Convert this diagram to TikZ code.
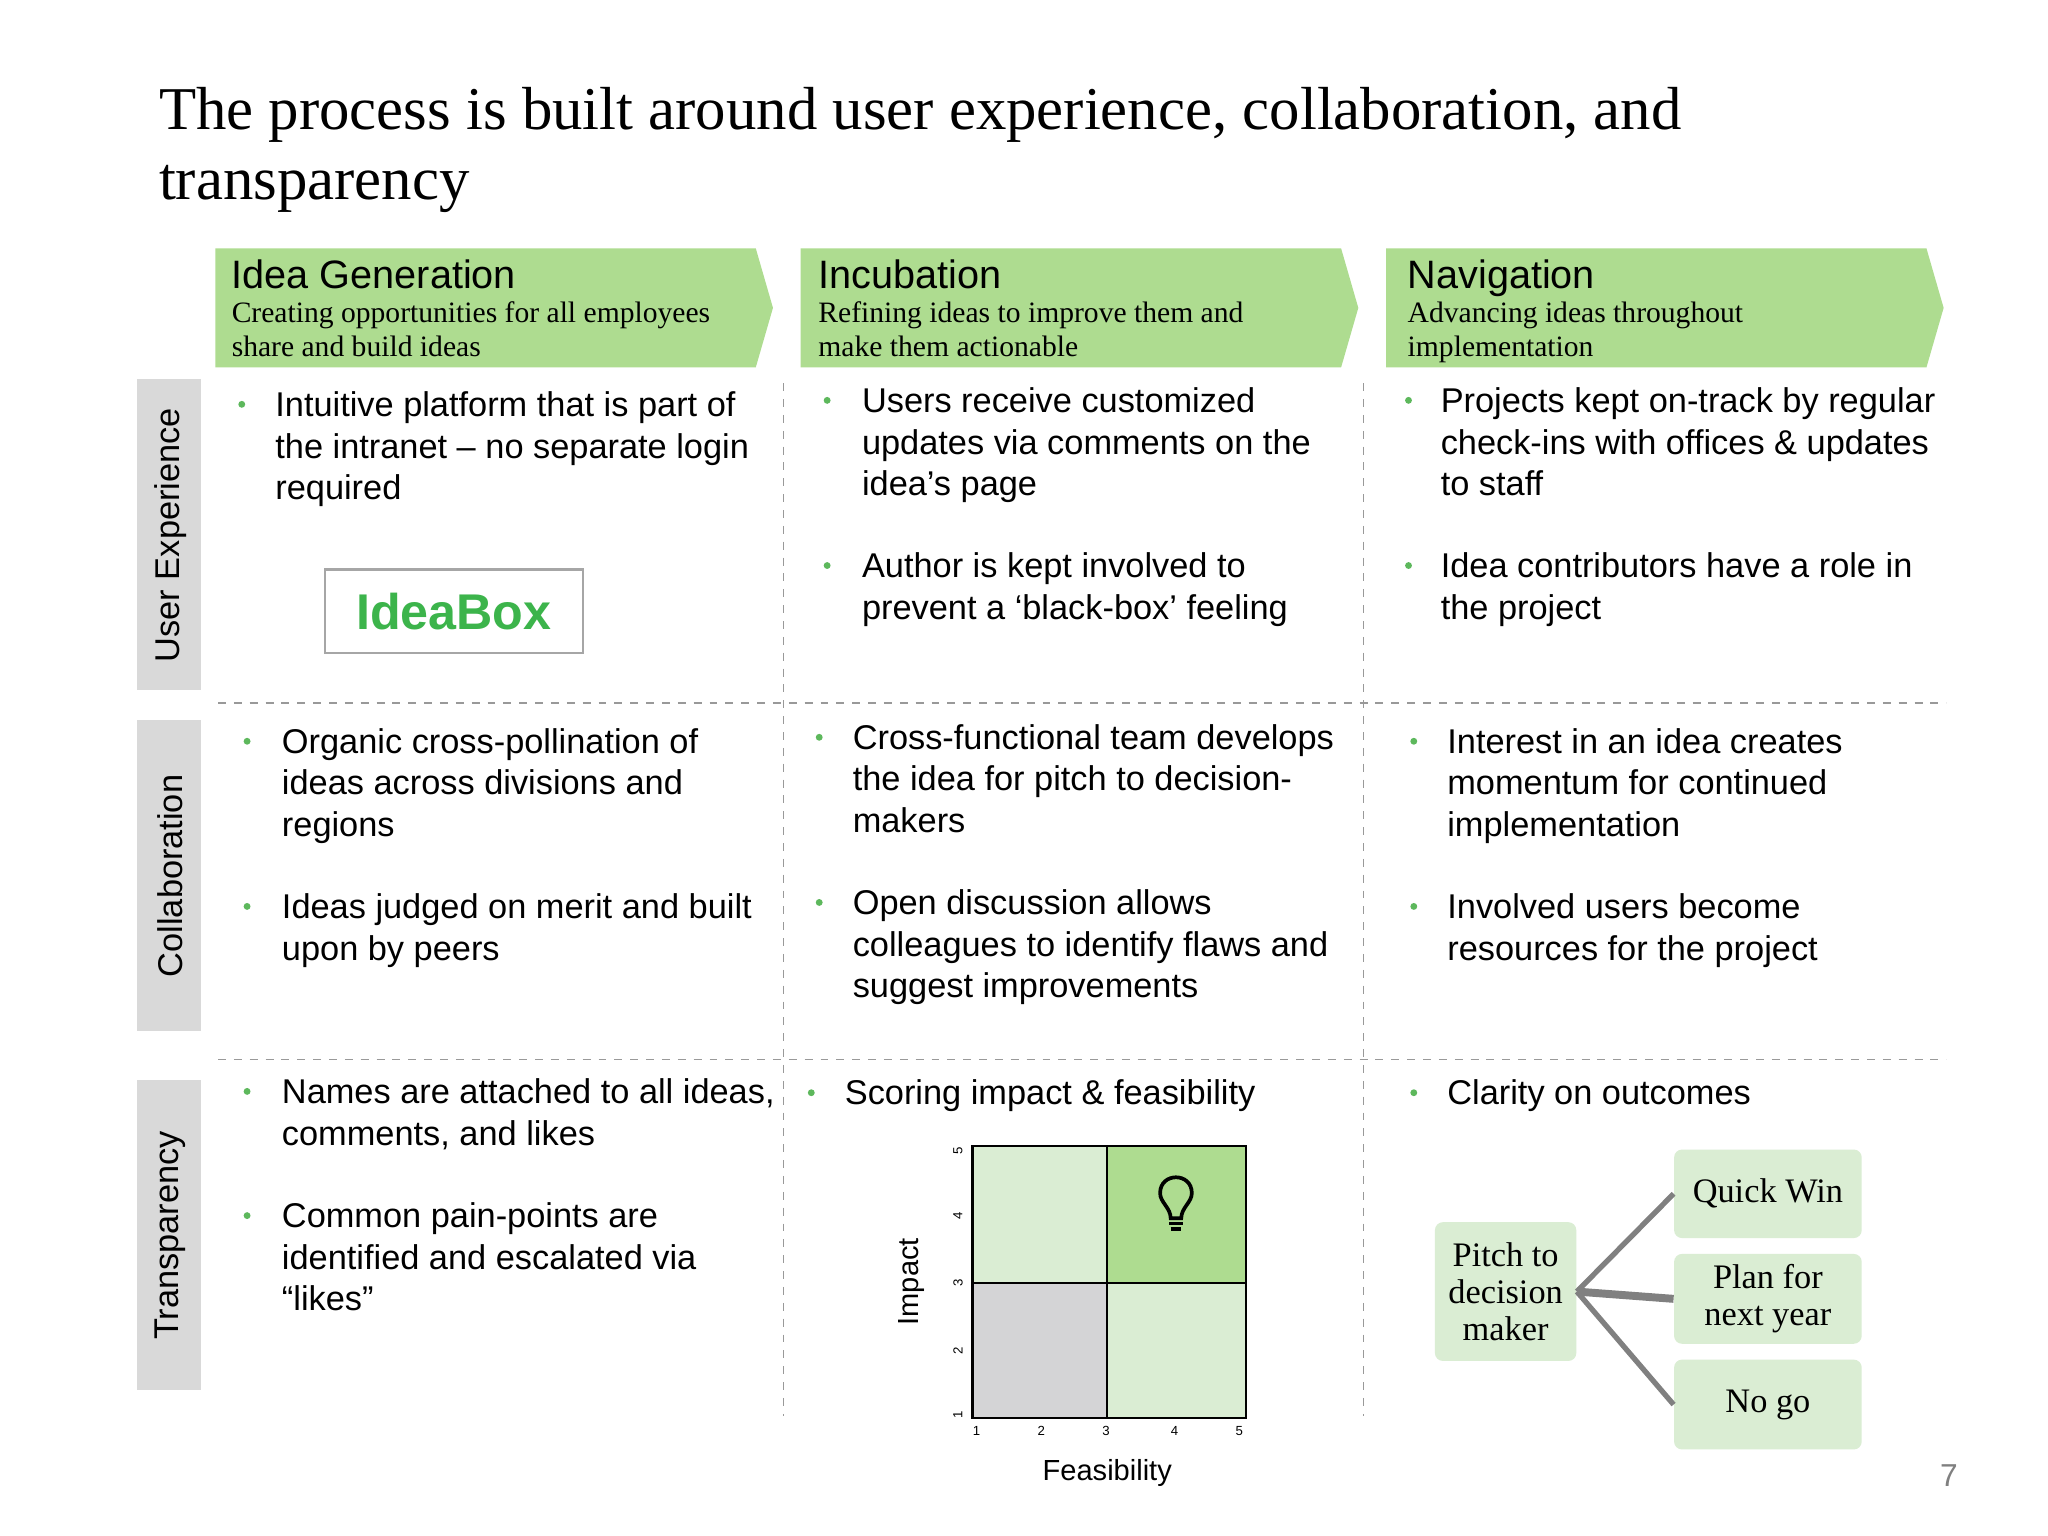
\documentclass[tikz,border=0pt]{standalone}
\usepackage{fontspec}
\setmainfont{Liberation Serif}
\setsansfont{Liberation Sans}
\usetikzlibrary{shapes.geometric}
\definecolor{hdr}{RGB}{174,220,144}
\definecolor{lgr}{RGB}{218,237,211}
\definecolor{gry}{RGB}{217,217,217}
\definecolor{bgr}{RGB}{212,212,214}
\definecolor{bul}{RGB}{93,184,92}
\definecolor{ibx}{RGB}{60,180,75}
\tikzset{
 bodytxt/.style={font=\sffamily\fontsize{13}{15.7}\selectfont,align=left,anchor=north west,inner sep=0pt},
 hdrbox/.style={fill=hdr,draw=none},
 rowlab/.style={fill=gry,draw=none},
 sep/.style={draw=gray!80,dashed,line width=0.5pt},
 outbox/.style={fill=lgr,draw=none,rounded corners=3pt,font=\fontsize{13}{14}\selectfont,align=center,inner sep=0pt},
 conn/.style={draw=gray,line width=2pt},
}
\newcommand{\bitem}[5]{%
 \fill[bul] (#1,#2-9) circle (2.6);
 \node[bodytxt] (#4) at (#3,#2-19) {#5};}
\begin{document}
\begin{tikzpicture}[x=0.5pt,y=-0.5pt]
\useasboundingbox (0,0) rectangle (1550,1162);
\fill[white] (0,0) rectangle (1550,1162);
% title
\node[anchor=north west,inner sep=0pt,align=left,font=\fontsize{23}{26.5}\selectfont] (title) at (120,66) {The process is built around user experience, collaboration, and\\transparency};
% headers
\foreach \x/\n in {163/h1,606/h2,1049/h3}{
 \fill[hdrbox] (\x,188) -- (\x+409,188) -- (\x+422,233) -- (\x+409,278) -- (\x,278) -- cycle;}
\node[anchor=base west,inner sep=0pt,font=\sffamily\fontsize{15}{18}\selectfont] (t1) at (175,218) {Idea Generation};
\node[anchor=base west,inner sep=0pt,font=\sffamily\fontsize{15}{18}\selectfont] (t2) at (619,218) {Incubation};
\node[anchor=base west,inner sep=0pt,font=\sffamily\fontsize{15}{18}\selectfont] (t3) at (1065,218) {Navigation};
\node[anchor=north west,inner sep=0pt,align=left,font=\fontsize{11.2}{13}\selectfont] (s1) at (175,228) {Creating opportunities for all employees\\share and build ideas};
\node[anchor=north west,inner sep=0pt,align=left,font=\fontsize{11.2}{13}\selectfont] (s2) at (619,228) {Refining ideas to improve them and\\make them actionable};
\node[anchor=north west,inner sep=0pt,align=left,font=\fontsize{11.2}{13}\selectfont] (s3) at (1065,228) {Advancing ideas throughout\\implementation};
% row labels
\fill[rowlab] (104,287) rectangle (152,522);
\fill[rowlab] (104,545) rectangle (152,780);
\fill[rowlab] (104,817) rectangle (152,1052);
\node[rotate=90,font=\sffamily\fontsize{13}{15}\selectfont] (r1) at (129,405) {User Experience};
\node[rotate=90,font=\sffamily\fontsize{13}{15}\selectfont] (r2) at (129,663) {Collaboration};
\node[rotate=90,font=\sffamily\fontsize{13}{15}\selectfont] (r3) at (129,935) {Transparency};
% separators
\draw[sep] (165,532) -- (1473,532);
\draw[sep] (165,802) -- (1473,802);
\draw[sep] (593,290) -- (593,1072);
\draw[sep] (1032,290) -- (1032,1072);
% row 1
\bitem{183}{315}{208}{b11}{Intuitive platform that is part of\\the intranet -- no separate login\\required}
\node[draw=gray!70,line width=0.8pt,minimum width=97.5pt,minimum height=31.5pt,inner sep=0pt,text=ibx,font=\sffamily\bfseries\fontsize{19}{20}\selectfont] (ibox) at (343.5,462.5) {IdeaBox};
\bitem{626}{312}{652}{b12}{Users receive customized\\updates via comments on the\\idea’s page}
\bitem{626}{437}{652}{b13}{Author is kept involved to\\prevent a ‘black-box’ feeling}
\bitem{1066}{312}{1090}{b14}{Projects kept on-track by regular\\check-ins with offices \& updates\\to staff}
\bitem{1066}{437}{1090}{b15}{Idea contributors have a role in\\the project}
% row 2
\bitem{187}{570}{213}{b21}{Organic cross-pollination of\\ideas across divisions and\\regions}
\bitem{187}{695}{213}{b22}{Ideas judged on merit and built\\upon by peers}
\bitem{620}{567}{645}{b23}{Cross-functional team develops\\the idea for pitch to decision-\\makers}
\bitem{620}{692}{645}{b24}{Open discussion allows\\colleagues to identify flaws and\\suggest improvements}
\bitem{1070}{570}{1095}{b25}{Interest in an idea creates\\momentum for continued\\implementation}
\bitem{1070}{695}{1095}{b26}{Involved users become\\resources for the project}
% row 3
\bitem{187}{835}{213}{b31}{Names are attached to all ideas,\\comments, and likes}
\bitem{187}{929}{213}{b32}{Common pain-points are\\identified and escalated via\\“likes”}
\bitem{614}{836}{639}{b33}{Scoring impact \& feasibility}
\bitem{1070}{836}{1095}{b34}{Clarity on outcomes}
% chart
\fill[lgr] (736,867) rectangle (838,971);
\fill[hdr] (838,867) rectangle (943,971);
\fill[bgr] (736,971) rectangle (838,1073);
\fill[lgr] (838,971) rectangle (943,1073);
\draw[black,line width=0.8pt] (736,867) rectangle (943,1073);
\draw[black,line width=0.8pt] (838,867) -- (838,1073) (736,971) -- (943,971);
\foreach \x/\v in {739/1,788/2,837/3,889/4,938/5}
 \node[font=\sffamily\fontsize{5}{6}\selectfont,inner sep=0pt] (fx\v) at (\x,1083) {\v};
\foreach \y/\v in {871/5,920/4,971/3,1022/2,1071/1}
 \node[rotate=90,font=\sffamily\fontsize{5}{6}\selectfont,inner sep=0pt] (fy\v) at (725,\y) {\v};
\node[rotate=90,font=\sffamily\fontsize{11}{13}\selectfont] (imp) at (690,970) {Impact};
\node[font=\sffamily\fontsize{11}{13}\selectfont] (fea) at (838,1115) {Feasibility};
% bulb
\draw[black,line width=1.4pt] (886,922) .. controls (886,914) and (878,910) .. (878,903) .. controls (878,895) and (884,891) .. (890,891) .. controls (896,891) and (902,895) .. (902,903) .. controls (902,910) and (894,914) .. (894,922) -- cycle;
\draw[black,line width=1.4pt] (885,926) -- (895,926) (886,930) -- (894,930);
% outcomes
\node[outbox,minimum width=53.5pt,minimum height=52.5pt] (pitch) at (1139.5,977.5) {Pitch to\\decision\\maker};
\node[outbox,minimum width=71pt,minimum height=33.5pt] (qw) at (1338,903.5) {Quick Win};
\node[outbox,minimum width=71pt,minimum height=34pt] (pl) at (1338,983) {Plan for\\next year};
\node[outbox,minimum width=71pt,minimum height=34pt] (ng) at (1338,1063) {No go};
\draw[conn] (pitch.east) -- (qw.west);
\draw[conn,line width=3pt] (pitch.east) -- (pl.west);
\draw[conn] (pitch.east) -- (ng.west);
\node[font=\sffamily\fontsize{12}{14}\selectfont,text=gray] (pg) at (1475,1117) {7};
\end{tikzpicture}
\end{document}
